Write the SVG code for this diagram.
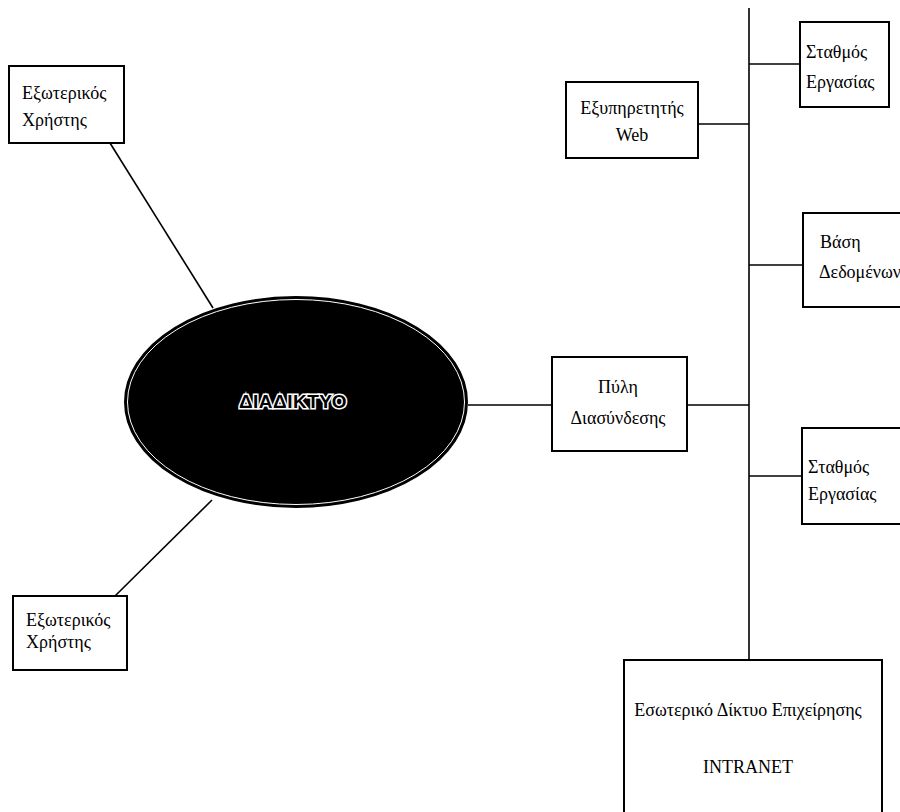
<svg xmlns="http://www.w3.org/2000/svg" width="900" height="812" viewBox="0 0 900 812">
<style>
  .box { fill: #fff; stroke: #000; stroke-width: 2; }
  .ln { stroke: #000; stroke-width: 1.6; fill: none; }
  .t { font-family: "Liberation Serif", "DejaVu Serif", "Times New Roman", serif; font-size: 18px; fill: #000; }
  .c { text-anchor: middle; }
</style>
<rect width="900" height="812" fill="#fff"/>
<g id="connectors">
  <line class="ln" x1="110" y1="143" x2="213" y2="308"/>
  <line class="ln" x1="115" y1="596" x2="212" y2="500"/>
  <line class="ln" x1="468" y1="405" x2="552" y2="405"/>
  <line class="ln" x1="687" y1="405" x2="749" y2="405"/>
  <line class="ln" x1="749" y1="8" x2="749" y2="660"/>
  <line class="ln" x1="749" y1="64" x2="800" y2="64"/>
  <line class="ln" x1="698" y1="124" x2="749" y2="124"/>
  <line class="ln" x1="749" y1="265" x2="803" y2="265"/>
  <line class="ln" x1="749" y1="476" x2="802" y2="476"/>
</g>
<g id="user-top">
  <rect class="box" x="9" y="66" width="115" height="77"/>
  <text class="t" x="22" y="99">Εξωτερικός</text>
  <text class="t" x="22" y="126">Χρήστης</text>
</g>
<g id="user-bottom">
  <rect class="box" x="13" y="596" width="114" height="74"/>
  <text class="t" x="26" y="626">Εξωτερικός</text>
  <text class="t" x="26" y="648">Χρήστης</text>
</g>
<g id="internet">
  <ellipse cx="296" cy="402" rx="171" ry="105" fill="#000" stroke="#000" stroke-width="2"/>
  <ellipse cx="296" cy="402" rx="168.5" ry="102.5" fill="none" stroke="#fff" stroke-width="1"/>
  <text x="293" y="408" text-anchor="middle" style="font-family:'Liberation Sans', Arial, sans-serif; font-size:19px; font-weight:bold; letter-spacing:0.5px; stroke:#fff; stroke-width:3; paint-order:stroke; fill:#000;">ΔΙΑΔΙΚΤΥΟ</text>
</g>
<g id="gateway">
  <rect class="box" x="552" y="357" width="135" height="94"/>
  <text class="t c" x="618" y="393">Πύλη</text>
  <text class="t c" x="618" y="424">Διασύνδεσης</text>
</g>
<g id="webserver">
  <rect class="box" x="566" y="82" width="132" height="76"/>
  <text class="t c" x="632" y="114">Εξυπηρετητής</text>
  <text class="t c" x="632" y="141">Web</text>
</g>
<g id="workstation-1">
  <rect class="box" x="800" y="22" width="89" height="85"/>
  <text class="t" x="806" y="58">Σταθμός</text>
  <text class="t" x="806" y="88">Εργασίας</text>
</g>
<g id="database">
  <rect class="box" x="803" y="213" width="110" height="94"/>
  <text class="t" x="820" y="248">Βάση</text>
  <text class="t" x="819" y="278">Δεδομένων</text>
</g>
<g id="workstation-2">
  <rect class="box" x="802" y="428" width="110" height="96"/>
  <text class="t" x="808" y="473">Σταθμός</text>
  <text class="t" x="808" y="500">Εργασίας</text>
</g>
<g id="intranet">
  <rect class="box" x="624" y="660" width="258" height="170"/>
  <text class="t c" x="748" y="716">Εσωτερικό Δίκτυο Επιχείρησης</text>
  <text class="t c" x="748" y="773">INTRANET</text>
</g>
</svg>
